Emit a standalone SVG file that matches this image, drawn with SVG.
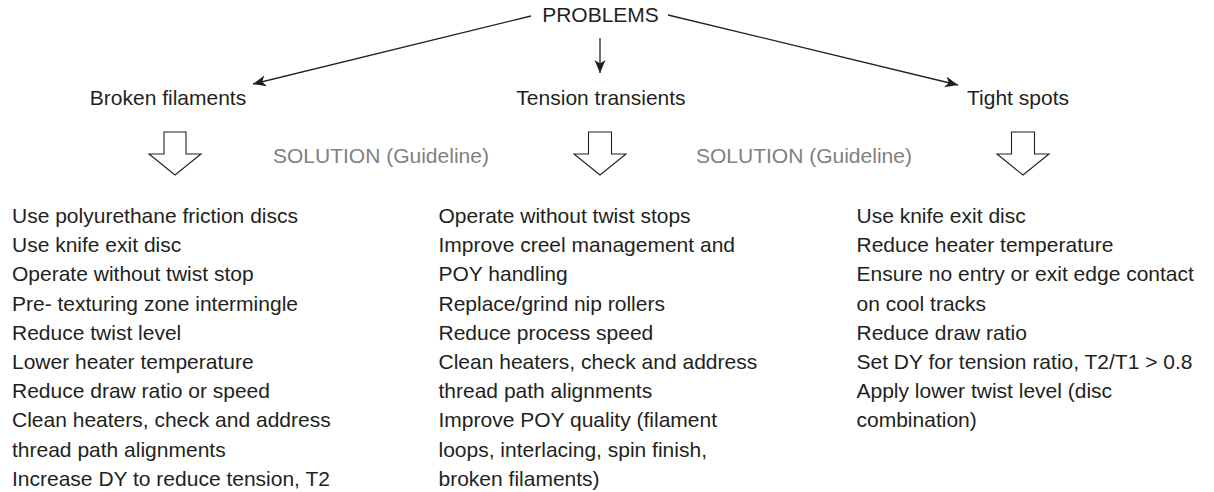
<svg xmlns="http://www.w3.org/2000/svg" width="1214" height="492" viewBox="0 0 1214 492">
  <style>
    text { font-family: "Liberation Sans", Arial, sans-serif; font-size: 21px; fill: #231f20; }
    .sol { fill: #808080; }
    .conn { stroke: #231f20; stroke-width: 1.3; fill: none; }
    .block { stroke: #231f20; stroke-width: 1.1; fill: #ffffff; stroke-linejoin: miter; }
  </style>
  <defs>
    <marker id="ah" markerUnits="userSpaceOnUse" markerWidth="14" markerHeight="12" refX="13" refY="5.5" orient="auto">
      <path d="M0,0 L13,5.5 L0,11 L3.5,5.5 z" fill="#231f20"/>
    </marker>
  </defs>

  <g id="connectors">
    <line class="conn" x1="531" y1="16" x2="253" y2="84" marker-end="url(#ah)"/>
    <line class="conn" x1="600" y1="38" x2="600" y2="73" marker-end="url(#ah)"/>
    <line class="conn" x1="668" y1="15" x2="958" y2="85" marker-end="url(#ah)"/>
    <path class="block" d="M164,132 L186,132 L186,154 L201,154 L175,175 L149,154 L164,154 Z"/>
    <path class="block" d="M588.5,132 L611.5,132 L611.5,154 L626,154 L600,175 L574,154 L588.5,154 Z"/>
    <path class="block" d="M1011.5,132 L1034.5,132 L1034.5,154 L1049,154 L1023,175 L997,154 L1011.5,154 Z"/>
  </g>

  <g id="problems">
    <text x="600.5" y="22" text-anchor="middle">PROBLEMS</text>
  </g>
  <g id="broken-filaments">
    <text x="168" y="105" text-anchor="middle">Broken filaments</text>
  </g>
  <g id="tension-transients">
    <text x="601" y="105" text-anchor="middle">Tension transients</text>
  </g>
  <g id="tight-spots">
    <text x="1018" y="105" text-anchor="middle">Tight spots</text>
  </g>

  <g id="solution-label-1">
    <text class="sol" x="273" y="163">SOLUTION (Guideline)</text>
  </g>
  <g id="solution-label-2">
    <text class="sol" x="696" y="163">SOLUTION (Guideline)</text>
  </g>

  <g id="solutions-broken">
    <text>
      <tspan x="12" y="223">Use polyurethane friction discs</tspan>
      <tspan x="12" y="252.2">Use knife exit disc</tspan>
      <tspan x="12" y="281.4">Operate without twist stop</tspan>
      <tspan x="12" y="310.6">Pre- texturing zone intermingle</tspan>
      <tspan x="12" y="339.8">Reduce twist level</tspan>
      <tspan x="12" y="369">Lower heater temperature</tspan>
      <tspan x="12" y="398.2">Reduce draw ratio or speed</tspan>
      <tspan x="12" y="427.4">Clean heaters, check and address</tspan>
      <tspan x="12" y="456.6">thread path alignments</tspan>
      <tspan x="12" y="485.8">Increase DY to reduce tension, T2</tspan>
    </text>
  </g>

  <g id="solutions-tension">
    <text>
      <tspan x="438.5" y="223">Operate without twist stops</tspan>
      <tspan x="438.5" y="252.2">Improve creel management and</tspan>
      <tspan x="438.5" y="281.4">POY handling</tspan>
      <tspan x="438.5" y="310.6">Replace/grind nip rollers</tspan>
      <tspan x="438.5" y="339.8">Reduce process speed</tspan>
      <tspan x="438.5" y="369">Clean heaters, check and address</tspan>
      <tspan x="438.5" y="398.2">thread path alignments</tspan>
      <tspan x="438.5" y="427.4">Improve POY quality (filament</tspan>
      <tspan x="438.5" y="456.6">loops, interlacing, spin finish,</tspan>
      <tspan x="438.5" y="485.8">broken filaments)</tspan>
    </text>
  </g>

  <g id="solutions-tight">
    <text>
      <tspan x="856.5" y="223">Use knife exit disc</tspan>
      <tspan x="856.5" y="252.2">Reduce heater temperature</tspan>
      <tspan x="856.5" y="281.4">Ensure no entry or exit edge contact</tspan>
      <tspan x="856.5" y="310.6">on cool tracks</tspan>
      <tspan x="856.5" y="339.8">Reduce draw ratio</tspan>
      <tspan x="856.5" y="369">Set DY for tension ratio, T2/T1 &gt; 0.8</tspan>
      <tspan x="856.5" y="398.2">Apply lower twist level (disc</tspan>
      <tspan x="856.5" y="427.4">combination)</tspan>
    </text>
  </g>
</svg>
